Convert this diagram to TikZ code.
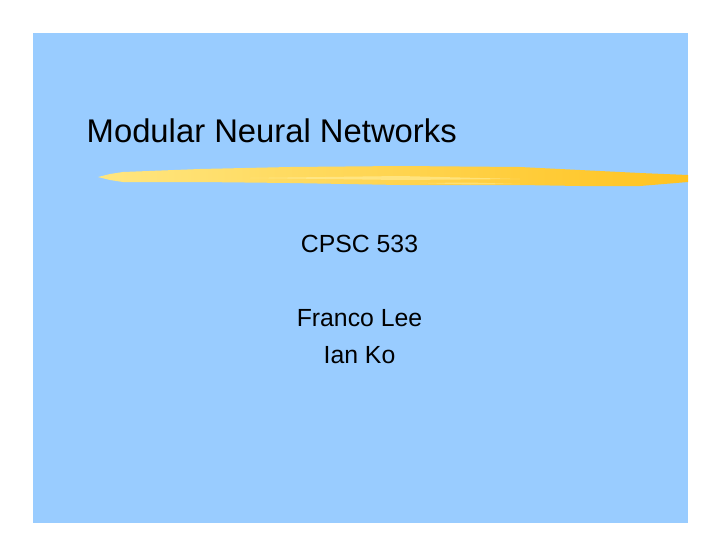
\documentclass[tikz,border=0pt]{standalone}
\usepackage{fontspec}
\setmainfont{Liberation Sans}
\definecolor{slideblue}{HTML}{99CCFF}
\definecolor{strokelight}{HTML}{FFE680}
\definecolor{strokedark}{HTML}{FFC320}
\definecolor{streak}{HTML}{FFEFA0}
\begin{document}
\begin{tikzpicture}[x=1pt,y=-1pt,
  titletext/.style={anchor=base west,inner sep=0pt,font=\fontsize{32.8}{38}\selectfont,text=black},
  bodytext/.style={anchor=base,inner sep=0pt,font=\fontsize{24.8}{30}\selectfont,text=black}]
\useasboundingbox (0,0) rectangle (720,557);
\fill[white] (0,0) rectangle (720,557);
\fill[slideblue] (33,33) rectangle (688,523);
% brush stroke
\shade[left color=strokelight,right color=strokedark,shading angle=90]
  (98,177) -- (110,174) -- (123,172) -- (200,169) -- (290,167) -- (400,166)
  -- (520,167) -- (580,170) -- (640,173) -- (688,175)
  -- (688,182) -- (640,186) -- (580,186) -- (520,185) -- (400,185)
  -- (290,183) -- (200,182) -- (123,182) -- (110,180) -- cycle;
\fill[streak,opacity=0.6] (250,178) -- (400,176) -- (520,179) -- (400,180) -- cycle;
\fill[streak,opacity=0.5] (420,183) -- (470,182.5) -- (520,184) -- (470,184.5) -- cycle;
\node[titletext] (title) at (86.5,142.4) {Modular Neural Networks};
\node[bodytext] (course) at (359.5,252.3) {CPSC 533};
\node[bodytext] (author1) at (359.5,326) {Franco Lee};
\node[bodytext] (author2) at (359.5,363) {Ian Ko};
\end{tikzpicture}
\end{document}
